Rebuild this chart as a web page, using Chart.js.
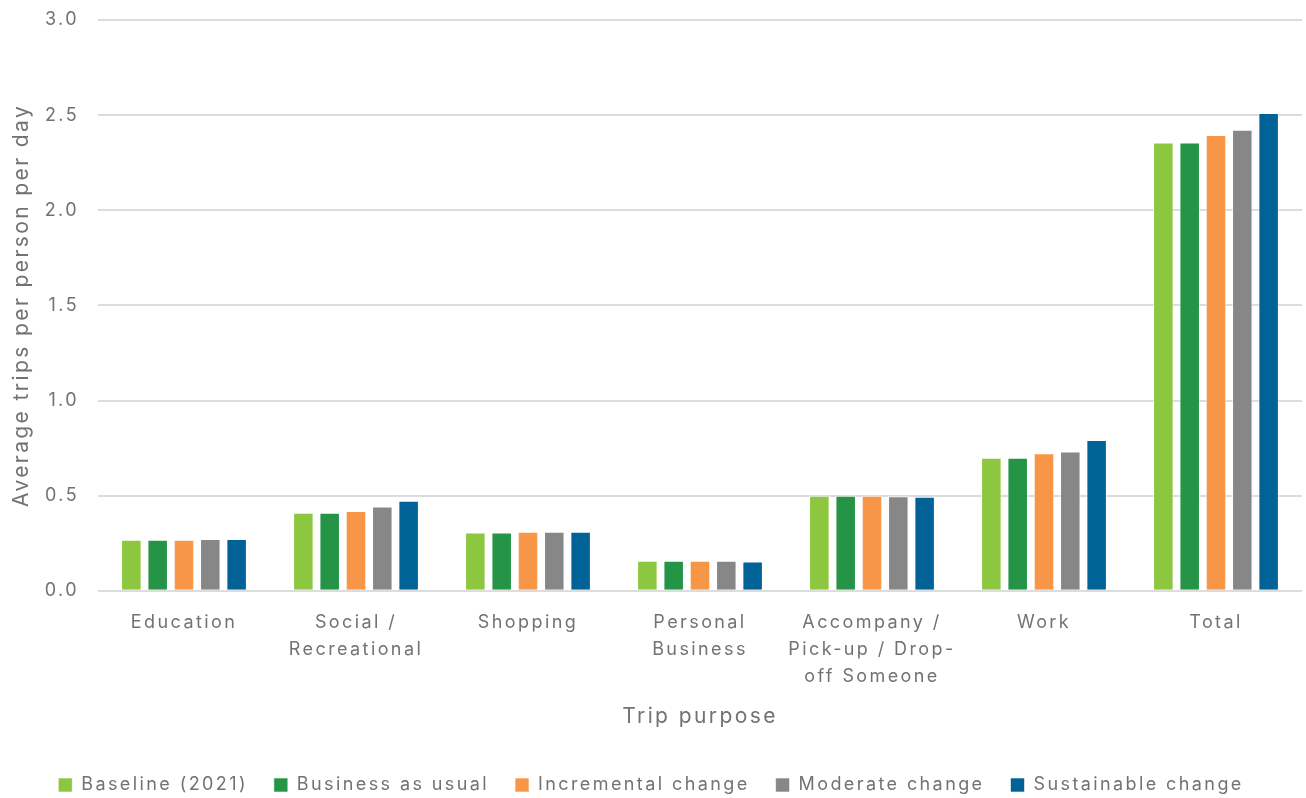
<!DOCTYPE html>
<html>
<head>
<meta charset="utf-8">
<script src="https://cdn.jsdelivr.net/npm/chart.js@4"></script>
<style>
  html, body { margin: 0; padding: 0; background: #fff; }
  #wrap { width: 1306px; height: 798px; }
</style>
</head>
<body>
<div id="wrap"><canvas id="tripsChart"></canvas></div>
<script>
// trip purposes along the x axis (multi-line labels)
const purposes = [
  'Education',
  ['Social /', 'Recreational'],
  'Shopping',
  ['Personal', 'Business'],
  ['Accompany /', 'Pick-up / Drop-', 'off Someone'],
  'Work',
  'Total'
];

// average trips per person per day, one array per scenario
const baseline        = [0.268, 0.410, 0.306, 0.158, 0.500, 0.699, 2.357];
const businessAsUsual = [0.268, 0.410, 0.306, 0.158, 0.500, 0.699, 2.357];
const incremental     = [0.268, 0.420, 0.310, 0.158, 0.500, 0.723, 2.396];
const moderate        = [0.272, 0.443, 0.310, 0.158, 0.497, 0.732, 2.424];
const sustainable     = [0.272, 0.474, 0.310, 0.154, 0.494, 0.793, 2.512];

const seriesNames = ['Baseline (2021)', 'Business as usual', 'Incremental change', 'Moderate change', 'Sustainable change'];
const seriesColors = ['#8DC63F', '#259446', '#F79646', '#878787', '#006296'];
const seriesData = [baseline, businessAsUsual, incremental, moderate, sustainable];

const yTicks = [0, 0.5, 1.0, 1.5, 2.0, 2.5, 3.0];

const textColor = '#727272';
const gridColor = '#dcdcdc';
const fontFamily = 'Inter, "Noto Sans", sans-serif';

// the typeface used here is set wide, so add tracking to all canvas text
const tracking = {
  id: 'tracking',
  beforeUpdate(chart) { chart.ctx.letterSpacing = '2.4px'; },
  beforeDraw(chart) { chart.ctx.letterSpacing = '2.4px'; }
};

const ctx = document.getElementById('tripsChart').getContext('2d');
new Chart(ctx, {
  type: 'bar',
  data: {
    labels: purposes,
    datasets: seriesNames.map((name, i) => ({
      label: name,
      data: seriesData[i],
      backgroundColor: seriesColors[i],
      borderColor: 'rgba(255,255,255,0.6)',
      borderWidth: 1,
      barPercentage: 0.78,
      categoryPercentage: 0.765
    }))
  },
  plugins: [tracking],
  options: {
    responsive: true,
    maintainAspectRatio: false,
    animation: false,
    layout: { padding: { top: 0, right: 4, left: 0, bottom: -6 } },
    plugins: {
      legend: {
        position: 'bottom',
        labels: {
          color: textColor,
          boxWidth: 14,
          boxHeight: 14,
          padding: 26,
          font: { family: fontFamily, size: 18 }
        }
      },
      tooltip: { enabled: false }
    },
    scales: {
      x: {
        grid: { display: false },
        border: { display: false },
        ticks: {
          color: textColor,
          padding: 10,
          maxRotation: 0,
          font: { family: fontFamily, size: 18, lineHeight: 1.5 }
        },
        title: {
          display: true,
          text: 'Trip purpose',
          color: textColor,
          padding: { top: 4, bottom: 21 },
          font: { family: fontFamily, size: 21 }
        }
      },
      y: {
        min: 0,
        max: 3,
        afterBuildTicks: (axis) => { axis.ticks = yTicks.map(v => ({ value: v })); },
        afterFit: (axis) => { axis.width = 98; },
        grid: { color: gridColor, lineWidth: 2, drawTicks: false },
        border: { display: false },
        ticks: {
          color: textColor,
          padding: 19,
          font: { family: fontFamily, size: 18, lineHeight: 0.12 },
          callback: (v) => Number(v).toFixed(1)
        },
        title: {
          display: true,
          text: 'Average trips per person per day',
          color: textColor,
          padding: { top: 9, bottom: 0 },
          font: { family: fontFamily, size: 21 }
        }
      }
    }
  }
});
</script>
</body>
</html>
